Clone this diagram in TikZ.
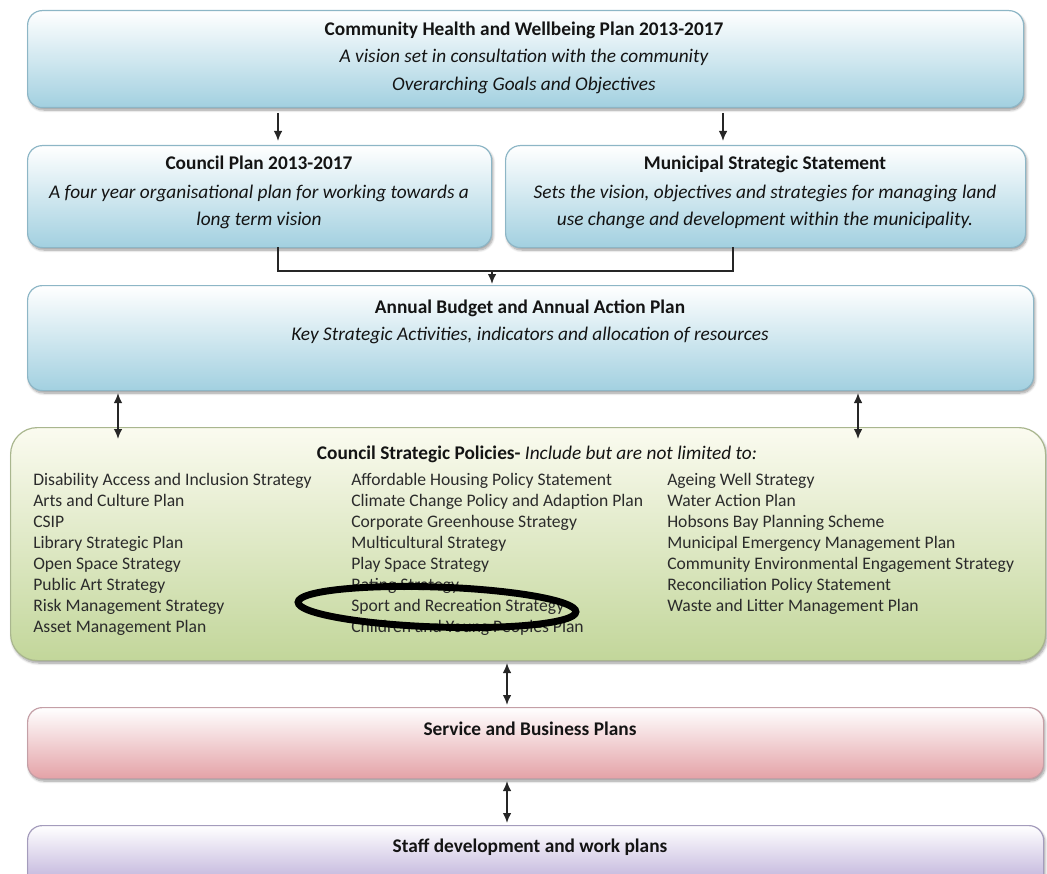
\documentclass[tikz,border=0pt]{standalone}
\usepackage{fontspec}
\setmainfont{Carlito}
\usetikzlibrary{arrows.meta,shadows.blur,calc}
\definecolor{blueB}{HTML}{A2D0E0}
\definecolor{blueL}{HTML}{8DB6C6}
\definecolor{greenB}{HTML}{C2D69A}
\definecolor{greenT}{HTML}{FBFBF0}
\definecolor{greenL}{HTML}{A9B68E}
\definecolor{pinkB}{HTML}{E4A2A7}
\definecolor{pinkL}{HTML}{C49FA6}
\definecolor{lavB}{HTML}{B7A8D6}
\definecolor{lavL}{HTML}{A49CBC}
\definecolor{txt}{HTML}{2B2B2B}
\newcommand{\pxbox}[6]{%
  \node[#6, anchor=north west, minimum width={0.75pt*(#4-#2)}, minimum height={0.75pt*(#5-#3)}] (#1) at (#2,#3) {};}
\begin{document}
\begin{tikzpicture}[x=0.75pt,y=-0.75pt,
  box/.style={draw, rounded corners=11pt, line width=0.9pt, inner sep=0pt,
    blur shadow={shadow xshift=1pt,shadow yshift=-1.8pt,shadow blur steps=7,shadow opacity=40}},
  bluebox/.style={box, draw=blueL, top color=white, bottom color=blueB},
  greenbox/.style={box, rounded corners=20pt, draw=greenL, top color=greenT, bottom color=greenB},
  pinkbox/.style={box, draw=pinkL, top color=white, bottom color=pinkB},
  lavbox/.style={box, draw=lavL, top color=white, bottom color=lavB},
  conn/.style={line width=1.2pt, draw=black!85},
  tip/.style={-{Latex[length=7.5pt,width=6.5pt]}},
  dtip/.style={{Latex[length=7.5pt,width=6.5pt]}-{Latex[length=7.5pt,width=6.5pt]}},
  ttl/.style={font=\bfseries\fontsize{14.5}{17}\selectfont, text=black!92, inner sep=0pt, anchor=base},
  itl/.style={font=\itshape\fontsize{14.5}{17}\selectfont, text=black!92, inner sep=0pt, anchor=base},
  lst/.style={font=\fontsize{13.2}{15}\selectfont, text=txt, inner sep=0pt, anchor=base west},
]
\useasboundingbox (0,0) rectangle (1047,874);
\begin{scope}
\clip (0,0) rectangle (1047,874);
% boxes
\pxbox{top}{27}{10}{1023}{107}{bluebox}
\pxbox{cp}{27}{145}{491}{247}{bluebox}
\pxbox{mss}{505}{145}{1025}{247}{bluebox}
\pxbox{ab}{27}{285}{1033}{390}{bluebox}
\pxbox{csp}{10}{427}{1045}{660}{greenbox}
\pxbox{sbp}{27}{707}{1043}{778}{pinkbox}
\pxbox{sdw}{27}{825}{1043}{890}{lavbox}

% top box texts
\node[ttl] (t1) at (524,36) {Community Health and Wellbeing Plan 2013-2017};
\node[itl] (t2) at (524,63) {A vision set in consultation with the community};
\node[itl] (t3) at (524,91) {Overarching Goals and Objectives};

\node[ttl] (c1) at (259,170) {Council Plan 2013-2017};
\node[itl] (c2) at (259,198) {A four year organisational plan for working towards a};
\node[itl] (c3) at (259,225) {long term vision};

\node[ttl] (m1) at (765,170) {Municipal Strategic Statement};
\node[itl] (m2) at (765,198) {Sets the vision, objectives and strategies for managing land};
\node[itl] (m3) at (765,225) {use change and development within the municipality.};

\node[ttl] (a1) at (530,313) {Annual Budget and Annual Action Plan};
\node[itl] (a2) at (530,340) {Key Strategic Activities, indicators and allocation of resources};

\node[ttl] (g0) at (537,459) {Council Strategic Policies- \normalfont\itshape Include but are not limited to:};

% column 1
\node[lst] (l1) at (33,485) {Disability Access and Inclusion Strategy};
\node[lst] (l2) at (33,506) {Arts and Culture Plan};
\node[lst] (l3) at (33,527) {CSIP};
\node[lst] (l4) at (33,548) {Library Strategic Plan};
\node[lst] (l5) at (33,569) {Open Space Strategy};
\node[lst] (l6) at (33,590) {Public Art Strategy};
\node[lst] (l7) at (33,611) {Risk Management Strategy};
\node[lst] (l8) at (33,632) {Asset Management Plan};
% column 2
\node[lst] (m21) at (351,485) {Affordable Housing Policy Statement};
\node[lst] (m22) at (351,506) {Climate Change Policy and Adaption Plan};
\node[lst] (m23) at (351,527) {Corporate Greenhouse Strategy};
\node[lst] (m24) at (351,548) {Multicultural Strategy};
\node[lst] (m25) at (351,569) {Play Space Strategy};
\node[lst] (m26) at (351,590) {Rating Strategy};
\node[lst] (m27) at (351,611) {Sport and Recreation Strategy};
\node[lst] (m28) at (351,632) {Children and Young Peoples Plan};
% column 3
\node[lst] (r1) at (667,485) {Ageing Well Strategy};
\node[lst] (r2) at (667,506) {Water Action Plan};
\node[lst] (r3) at (667,527) {Hobsons Bay Planning Scheme};
\node[lst] (r4) at (667,548) {Municipal Emergency Management Plan};
\node[lst] (r5) at (667,569) {Community Environmental Engagement Strategy};
\node[lst] (r6) at (667,590) {Reconciliation Policy Statement};
\node[lst] (r7) at (667,611) {Waste and Litter Management Plan};

\node[ttl] (s1) at (530,735) {Service and Business Plans};
\node[ttl] (s2) at (530,852) {Staff development and work plans};

% highlight ellipse
\draw[line width=5.2pt, rotate around={-2:(437,607)}] (437,607) ellipse [x radius=139, y radius=20];

% connectors
\coordinate (a_t1) at (278,113); \coordinate (a_c) at (278,141);
\coordinate (a_t2) at (723,113); \coordinate (a_m) at (723,141);
\draw[conn, tip] (a_t1) -- (a_c);
\draw[conn, tip] (a_t2) -- (a_m);
\coordinate (j1) at (278,247); \coordinate (j2) at (733,247);
\coordinate (jm) at (492,271); \coordinate (ja) at (492,284);
\draw[conn] (j1) |- (jm) -| (j2);
\draw[conn, tip] (jm) -- (ja);
\coordinate (d1a) at (118,393); \coordinate (d1b) at (118,439);
\coordinate (d2a) at (858,393); \coordinate (d2b) at (858,439);
\draw[conn, dtip] (d1a) -- (d1b);
\draw[conn, dtip] (d2a) -- (d2b);
\coordinate (d3a) at (507,663); \coordinate (d3b) at (507,705);
\coordinate (d4a) at (507,781); \coordinate (d4b) at (507,823);
\draw[conn, dtip] (d3a) -- (d3b);
\draw[conn, dtip] (d4a) -- (d4b);
\end{scope}
\end{tikzpicture}
\end{document}
